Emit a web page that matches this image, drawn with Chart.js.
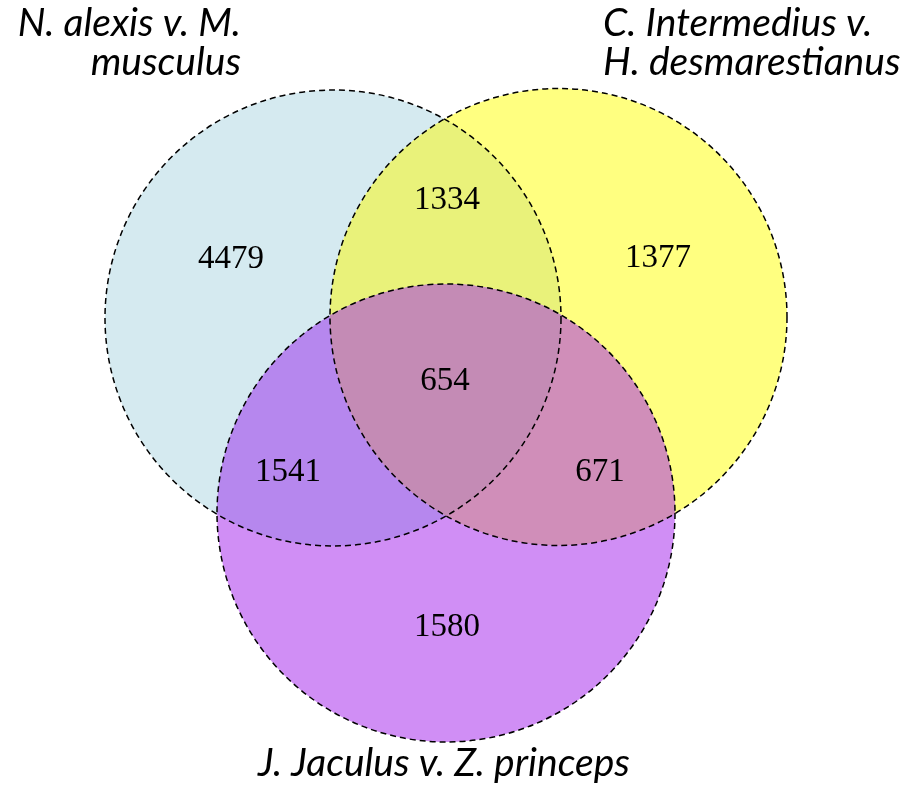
<!DOCTYPE html>
<html>
<head>
<meta charset="utf-8">
<script src="https://cdn.jsdelivr.net/npm/chart.js@4.4.1/dist/chart.umd.min.js"></script>
<style>
  html, body { margin: 0; padding: 0; background: #fff; }
  canvas { display: block; }
</style>
</head>
<body>
<canvas id="venn" width="914" height="792"></canvas>
<script>
// ---- data ----
const setNames = ['N. alexis v. M. musculus', 'C. Intermedius v. H. desmarestianus', 'J. Jaculus v. Z. princeps'];
const setLabelLines = [['N. alexis v. M.', 'musculus'], ['C. Intermedius v.', 'H. desmarestianus'], ['J. Jaculus v. Z. princeps']];
const regionKeys = ['A', 'B', 'C', 'AB', 'AC', 'BC', 'ABC'];
const regionCounts = [4479, 1377, 1580, 1334, 1541, 671, 654];

// ---- layout (plot units, y grows downward) ----
const circles = [
    { cx: 333, cy: 318, r: 228 },
    { cx: 558.5, cy: 317, r: 228.5 },
    { cx: 446, cy: 513, r: 229 }
];
const regionAnchors = {
    A: [231, 259], B: [658, 258], C: [447, 627],
    AB: [447, 200], AC: [288, 472], BC: [600, 472], ABC: [445, 381]
};
const labelPos = [
    { x: 241, y: 36, align: 'right' },
    { x: 603, y: 36, align: 'left' },
    { x: 444, y: 776, align: 'center' }
];
const regionColors = {
    A: '#d5eaf0', B: '#ffff80', C: '#d08ef5',
    AB: '#e9f27a', AC: '#b687ee', BC: '#d08eb9', ABC: '#c48bb5'
};

const vennPlugin = {
    id: 'venn',
    beforeDatasetsDraw(chart) {
        const { ctx, scales: { x, y } } = chart;
        const px = circles.map(c => ({
            x: x.getPixelForValue(c.cx),
            y: y.getPixelForValue(c.cy),
            r: x.getPixelForValue(c.cx + c.r) - x.getPixelForValue(c.cx)
        }));
        const path = i => {
            ctx.beginPath();
            ctx.arc(px[i].x, px[i].y, px[i].r, 0, Math.PI * 2);
        };
        // fill circle `i` clipped to circles in `clip`
        const fill = (i, clip, color) => {
            ctx.save();
            clip.forEach(j => { path(j); ctx.clip(); });
            path(i);
            ctx.fillStyle = color;
            ctx.fill();
            ctx.restore();
        };
        fill(0, [], regionColors.A);
        fill(1, [], regionColors.B);
        fill(1, [0], regionColors.AB);
        fill(2, [], regionColors.C);
        fill(2, [0], regionColors.AC);
        fill(2, [1], regionColors.BC);
        fill(2, [0, 1], regionColors.ABC);

        ctx.save();
        ctx.setLineDash([6, 4]);
        ctx.lineWidth = 1.5;
        ctx.strokeStyle = '#000';
        px.forEach((c, i) => { path(i); ctx.stroke(); });
        ctx.restore();
    },
    afterDatasetsDraw(chart) {
        const { ctx, scales: { x, y } } = chart;
        const meta = chart.getDatasetMeta(0);
        ctx.save();
        ctx.fillStyle = '#000';
        ctx.textAlign = 'center';
        ctx.textBaseline = 'middle';
        ctx.font = '33px "Liberation Serif", "Times New Roman", serif';
        meta.data.forEach((pt, i) => {
            ctx.fillText(String(regionCounts[i]), pt.x, pt.y);
        });

        ctx.font = 'italic 39px Lato, "Open Sans", sans-serif';
        ctx.textBaseline = 'alphabetic';
        setLabelLines.forEach((lines, i) => {
            const p = labelPos[i];
            ctx.textAlign = p.align;
            lines.forEach((line, k) => {
                ctx.fillText(line, x.getPixelForValue(p.x), y.getPixelForValue(p.y + k * 39));
            });
        });
        ctx.restore();
    }
};

new Chart(document.getElementById('venn'), {
    type: 'scatter',
    data: {
        datasets: [{
            label: 'regions',
            data: regionKeys.map(k => ({ x: regionAnchors[k][0], y: regionAnchors[k][1] })),
            pointRadius: 0,
            pointHoverRadius: 0
        }]
    },
    options: {
        responsive: false,
        animation: false,
        layout: { padding: 0 },
        plugins: { legend: { display: false }, tooltip: { enabled: false } },
        scales: {
            x: { type: 'linear', min: 0, max: 914, display: false },
            y: { type: 'linear', min: 0, max: 792, reverse: true, display: false }
        }
    },
    plugins: [vennPlugin]
});
</script>
</body>
</html>
